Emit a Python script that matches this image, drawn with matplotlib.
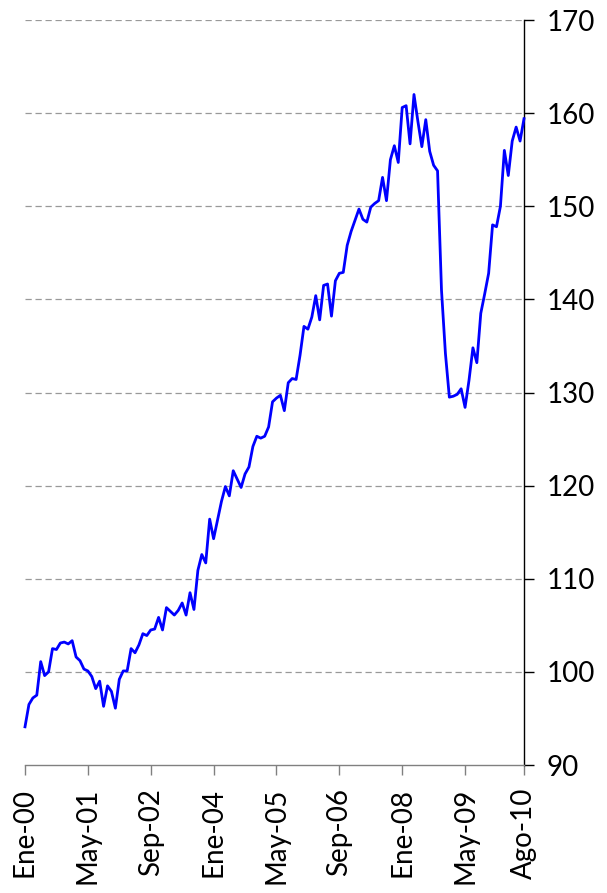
import numpy as np
import matplotlib
matplotlib.use('Agg')
import matplotlib.pyplot as plt

# monthly index, Ene-00 .. Ago-10
values = [94.1, 96.5, 97.2, 97.5, 101.1, 99.6, 100.0, 102.5, 102.4, 103.1,
          103.2, 103.0, 103.35, 101.6, 101.2, 100.3, 100.1, 99.5, 98.2, 99.0,
          96.3, 98.5, 97.9, 96.1, 99.2, 100.1, 100.1, 102.5, 102.05, 102.9,
          104.1, 103.9, 104.5, 104.6, 105.85, 104.5, 106.9, 106.5, 106.1, 106.6,
          107.4, 106.1, 108.5, 106.7, 110.9, 112.6, 111.7, 116.4, 114.3, 116.3,
          118.3, 119.9, 118.9, 121.6, 120.7, 119.8, 121.25, 122.0, 124.2, 125.3,
          125.1, 125.3, 126.3, 129.0, 129.4, 129.7, 128.05, 131.05, 131.5, 131.4,
          134.0, 137.1, 136.8, 138.1, 140.4, 137.8, 141.5, 141.65, 138.2, 142.0,
          142.8, 142.9, 145.8, 147.3, 148.5, 149.7, 148.6, 148.3, 149.9, 150.3,
          150.6, 153.1, 150.6, 155.0, 156.5, 154.7, 160.6, 160.8, 156.7, 162.0,
          159.1, 156.4, 159.3, 155.9, 154.4, 153.8, 141.0, 134.2, 129.5, 129.6,
          129.8, 130.4, 128.4, 131.3, 134.8, 133.2, 138.5, 140.6, 142.8, 148.0,
          147.8, 150.0, 156.0, 153.3, 157.0, 158.5, 157.0, 159.4]
tick_idx = [0, 16, 32, 48, 64, 80, 96, 112, 127]
tick_labels = ['Ene-00', 'May-01', 'Sep-02', 'Ene-04', 'May-05',
               'Sep-06', 'Ene-08', 'May-09', 'Ago-10']
y_ticks = [90, 100, 110, 120, 130, 140, 150, 160, 170]

plt.rcParams['font.family'] = ['Lato', 'DejaVu Sans']

fig = plt.figure(figsize=(6.07, 8.93), dpi=100)
ax = fig.add_axes([25 / 607, 1 - 765 / 893, 499 / 607, 745 / 893])

x = np.arange(len(values))
ax.plot(x, values, color='#0000ff', lw=2.0, zorder=3, clip_on=False)

ax.set_xlim(0, len(values) - 1)
ax.set_ylim(90, 170)
ax.set_yticks(y_ticks)
ax.yaxis.tick_right()
ax.set_xticks(tick_idx)
ax.set_xticklabels(tick_labels, rotation=90)
ax.tick_params(axis='x', direction='out', length=7.5, width=1, color='#808080',
               labelsize=20, pad=9)
ax.tick_params(axis='y', direction='out', length=7.5, width=1, color='black',
               labelsize=20, pad=9)

for v in y_ticks[1:]:
    ax.axhline(v, color='#999999', lw=0.9, ls=(0, (5, 3)), zorder=1)

for s in ['top', 'left']:
    ax.spines[s].set_visible(False)
ax.spines['bottom'].set_color('#808080')
ax.spines['right'].set_color('black')
ax.spines['bottom'].set_linewidth(1)
ax.spines['right'].set_linewidth(1)

fig.savefig('out.png', dpi=100)
